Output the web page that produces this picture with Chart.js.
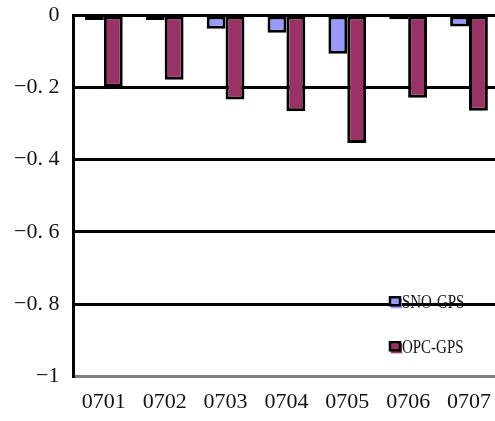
<!DOCTYPE html>
<html>
<head>
<meta charset="utf-8">
<script src="https://cdn.jsdelivr.net/npm/chart.js@4/dist/chart.umd.min.js"></script>
<style>
  html, body { margin: 0; padding: 0; background: #fff; overflow: hidden; }
  #wrap { position: relative; width: 503px; height: 421px; }
</style>
</head>
<body>
<div id="wrap"><canvas id="c"></canvas></div>
<script>
// Monthly differences against GPS
const categories = ['0701', '0702', '0703', '0704', '0705', '0706', '0707'];
const snoGps = [-0.014, -0.014, -0.038, -0.049, -0.107, -0.012, -0.032];
const opcGps = [-0.198, -0.179, -0.234, -0.266, -0.354, -0.229, -0.265];
const seriesNames = ['SNO-GPS', 'OPC-GPS'];
const yTickLabels = ['0', '\u22120. 2', '\u22120. 4', '\u22120. 6', '\u22120. 8', '\u22121'];

const FONT = "'Liberation Serif', 'DejaVu Serif', serif";

// Legend drawn inside the plot area, lower right
const innerLegend = {
  id: 'innerLegend',
  afterDatasetsDraw(chart) {
    const ctx = chart.ctx;
    const yScale = chart.scales.y;
    const x0 = 390;
    const rows = [yScale.getPixelForValue(-0.8) - 2, yScale.getPixelForValue(-0.8) + 43];
    ctx.save();
    chart.data.datasets.forEach((ds, i) => {
      const cy = rows[i];
      ctx.fillStyle = ds.backgroundColor;
      ctx.fillRect(x0 + 1, cy - 4, 11, 10);
      ctx.lineWidth = 2.5;
      ctx.strokeStyle = '#000';
      ctx.strokeRect(x0, cy - 5, 10, 8);
      ctx.fillStyle = '#111';
      ctx.font = '17px ' + FONT;
      ctx.textBaseline = 'middle';
      ctx.textAlign = 'left';
      ctx.save();
      ctx.translate(x0 + 12, cy + 1);
      ctx.scale(0.88, 1.15);
      ctx.fillText(ds.label, 0, 0);
      ctx.restore();
    });
    ctx.restore();
  }
};

new Chart(document.getElementById('c'), {
  type: 'bar',
  data: {
    labels: categories,
    datasets: [
      {
        label: seriesNames[0],
        data: snoGps,
        backgroundColor: '#9999FF',
        borderColor: '#000000',
        borderWidth: 3,
        borderSkipped: false
      },
      {
        label: seriesNames[1],
        data: opcGps,
        backgroundColor: '#993366',
        borderColor: '#000000',
        borderWidth: 3,
        borderSkipped: false
      }
    ]
  },
  options: {
    responsive: true,
    maintainAspectRatio: false,
    animation: false,
    layout: { padding: { top: 15, right: 0, bottom: -6, left: 0 } },
    plugins: {
      legend: { display: false },
      tooltip: { enabled: false }
    },
    datasets: {
      bar: { categoryPercentage: 0.62, barPercentage: 1.0 }
    },
    scales: {
      x: {
        grid: { display: false, drawTicks: false },
        border: { display: true, color: '#808080', width: 3 },
        ticks: {
          color: '#111',
          font: { family: FONT, size: 22 },
          padding: 12,
          maxRotation: 0
        }
      },
      y: {
        min: -1,
        max: 0,
        afterBuildTicks(axis) {
          axis.ticks = yTickLabels.map((_, i) => ({ value: -i * 0.2 }));
        },
        afterFit(scale) {
          scale.paddingTop = 0;
          scale.paddingBottom = 0;
        },
        grid: {
          color: (ctx) => (ctx.tick && Math.abs(ctx.tick.value + 1) < 1e-6) ? '#808080' : '#000000',
          lineWidth: 3,
          drawTicks: false
        },
        border: { display: true, color: '#000000', width: 3 },
        ticks: {
          color: '#111',
          font: { family: FONT, size: 22 },
          padding: 14,
          callback: (value) => yTickLabels[Math.round(-value / 0.2)]
        }
      }
    }
  },
  plugins: [innerLegend]
});
</script>
</body>
</html>
